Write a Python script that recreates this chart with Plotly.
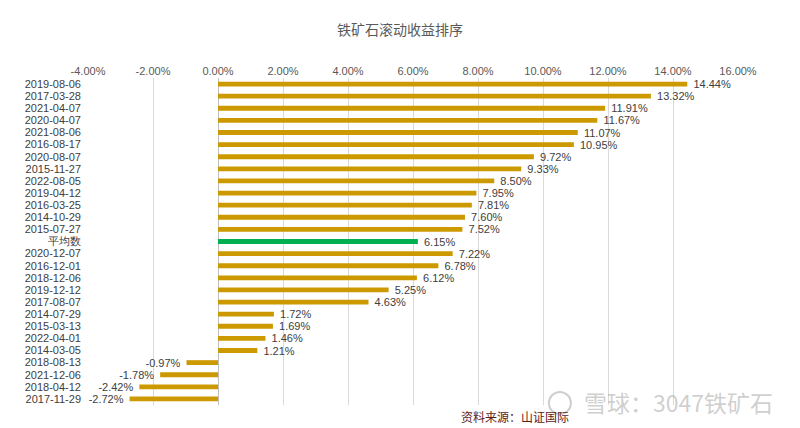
import plotly.graph_objects as go

categories = ["2019-08-06", "2017-03-28", "2021-04-07", "2020-04-07", "2021-08-06", "2016-08-17",
              "2020-08-07", "2015-11-27", "2022-08-05", "2019-04-12", "2016-03-25", "2014-10-29",
              "2015-07-27", "平均数", "2020-12-07", "2016-12-01", "2018-12-06", "2019-12-12",
              "2017-08-07", "2014-07-29", "2015-03-13", "2022-04-01", "2014-03-05", "2018-08-13",
              "2021-12-06", "2018-04-12", "2017-11-29"]
values = [14.44, 13.32, 11.91, 11.67, 11.07, 10.95, 9.72, 9.33, 8.50, 7.95, 7.81, 7.60, 7.52,
          6.15, 7.22, 6.78, 6.12, 5.25, 4.63, 1.72, 1.69, 1.46, 1.21, -0.97, -1.78, -2.42, -2.72]
tick_vals = [-4, -2, 0, 2, 4, 6, 8, 10, 12, 14, 16]
tick_text = ["-4.00%", "-2.00%", "0.00%", "2.00%", "4.00%", "6.00%", "8.00%", "10.00%",
             "12.00%", "14.00%", "16.00%"]

gold = "#CC9900"
green = "#00B050"
colors = [green if c == "平均数" else gold for c in categories]
pad = "\u00a0\u00a0"
labels = [(pad + f"{v:.2f}%") if v >= 0 else (f"{v:.2f}%" + pad) for v in values]

fig = go.Figure(go.Bar(
    x=values, y=categories, orientation="h",
    marker=dict(color=colors, line=dict(width=0)),
    text=labels, textposition="outside", cliponaxis=False, constraintext="none",
    textfont=dict(size=11, color="#404040", family="Liberation Sans, Arial, sans-serif"),
    width=0.4,
))

fig.update_layout(
    width=792, height=420,
    margin=dict(l=80, r=62, t=70, b=23),
    paper_bgcolor="white", plot_bgcolor="white",
    font=dict(family="Liberation Sans, Arial, sans-serif", size=11, color="#404040"),
    showlegend=False,
    title=dict(text="铁矿石滚动收益排序", x=0.495, xanchor="center", y=0.948, yanchor="middle",
               xref="container", yref="container", automargin=False,
               font=dict(size=14, color="#595959", family="Noto Sans CJK SC, sans-serif")),
    xaxis=dict(side="top", range=[-4, 16], tickvals=tick_vals, ticktext=tick_text,
               showgrid=True, gridcolor="#D9D9D9", gridwidth=1, automargin=False,
               zeroline=True, zerolinecolor="#BFBFBF", zerolinewidth=1,
               showline=False, ticks="", tickfont=dict(size=11, color="#595959")),
    yaxis=dict(type="category", autorange="reversed", showgrid=False, zeroline=False,
               automargin=False, tickmode="linear", dtick=1, ticklabelstandoff=6,
               showline=False, ticks="", tickfont=dict(size=11, color="#404040")),
)

fig.add_annotation(text="资料来源：山证国际", xref="paper", yref="paper", x=0.657, y=-0.034,
                   xanchor="center", yanchor="middle", showarrow=False,
                   font=dict(size=12, color="#5C1A1A", family="Noto Sans CJK SC, sans-serif"))
fig.add_annotation(text="雪球：3047铁矿石", xref="paper", yref="paper", x=1.057, y=0.009,
                   xanchor="right", yanchor="middle", showarrow=False,
                   font=dict(size=23, color="rgba(160,160,160,0.5)", family="Noto Sans CJK SC, sans-serif"))
# watermark logo ring
fig.add_shape(type="circle", xref="paper", yref="paper", x0=0.709, x1=0.743, y0=-0.028, y1=0.040,
              line=dict(color="rgba(160,160,160,0.5)", width=2), fillcolor="rgba(0,0,0,0)")

fig.write_html("out.html")
